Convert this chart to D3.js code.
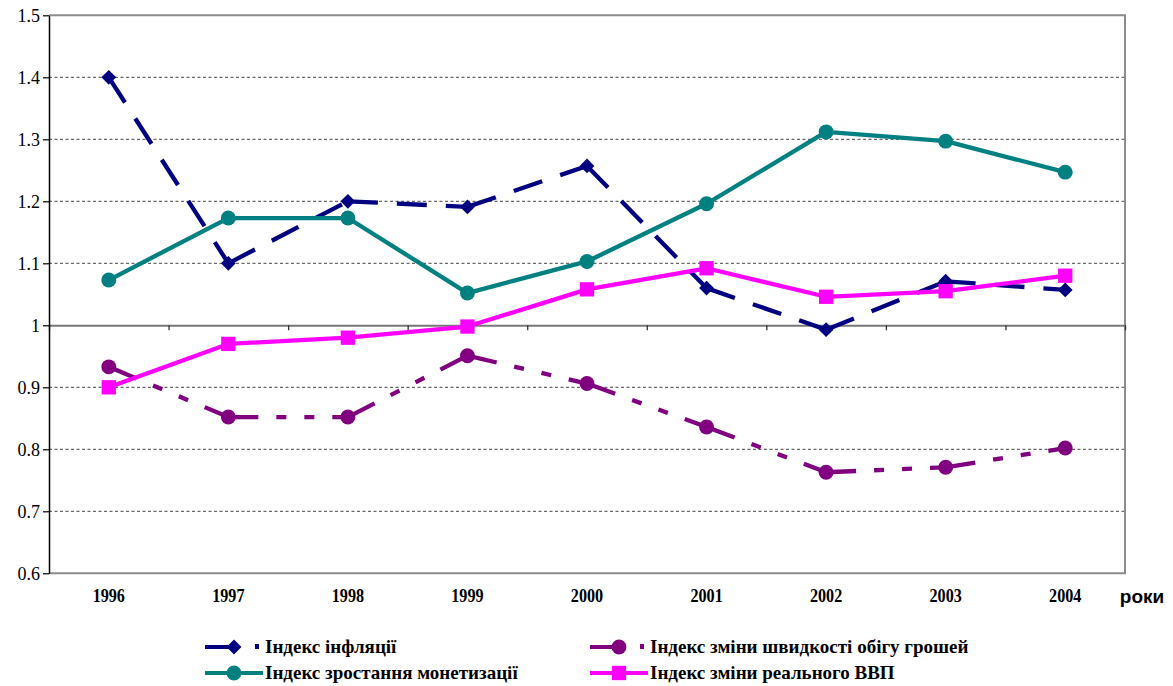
<!DOCTYPE html>
<html>
<head>
<meta charset="utf-8">
<script src="https://cdn.jsdelivr.net/npm/d3@7/dist/d3.min.js"></script>
<style>
  html, body { margin: 0; padding: 0; background: #fff; }
  svg { display: block; }
  .serif { font-family: "Liberation Serif", "Times New Roman", Times, serif; }
</style>
</head>
<body>
<svg id="chart" width="1173" height="686"></svg>
<script>
// ---- data ----
const years = ["1996","1997","1998","1999","2000","2001","2002","2003","2004"];
const inflation    = [1.400, 1.100, 1.200, 1.191, 1.257, 1.060, 0.993, 1.071, 1.057];
const velocity     = [0.933, 0.852, 0.852, 0.951, 0.906, 0.836, 0.763, 0.771, 0.802];
const monetization = [1.073, 1.173, 1.173, 1.052, 1.103, 1.196, 1.312, 1.297, 1.247];
const realGDP      = [0.900, 0.970, 0.980, 0.998, 1.058, 1.092, 1.046, 1.055, 1.080];
const yTicks = [0.6, 0.7, 0.8, 0.9, 1.0, 1.1, 1.2, 1.3, 1.4, 1.5];
const yTickLabels = ["0.6","0.7","0.8","0.9","1","1.1","1.2","1.3","1.4","1.5"];
const seriesNames = ["Індекс інфляції", "Індекс зміни швидкості обігу грошей",
                     "Індекс зростання монетизації", "Індекс зміни реального ВВП"];
const xAxisTitle = "роки";

// ---- layout ----
const svg = d3.select("#chart");
const L = 49, R = 1125, T = 15.3, B = 573.3;

const x = d3.scaleBand().domain(years).range([L, R]).padding(0);
const xb = d3.scaleLinear().domain([0, years.length]).range([L, R]);
const y = d3.scaleLinear().domain([0.6, 1.5]).range([B, T]);
const cx = d => x(d) + x.bandwidth() / 2;

// gridlines (dotted)
svg.append("g").selectAll("line")
  .data(yTicks.filter(v => v !== 0.6 && v !== 1.5 && v !== 1.0))
  .join("line")
  .attr("x1", L).attr("x2", R)
  .attr("y1", d => y(d)).attr("y2", d => y(d))
  .attr("stroke", "#444").attr("stroke-width", 1)
  .attr("stroke-dasharray", "3,2.5");

// border top/right/bottom (gray)
svg.append("path")
  .attr("d", `M${L},${y(1.5)}H${R}V${y(0.6)}H${L}`)
  .attr("fill", "none").attr("stroke", "#8c8c8c").attr("stroke-width", 2);

// category axis crossing at 1.0
const catAxis = svg.append("g")
  .attr("transform", `translate(0,${y(1.0)})`)
  .call(d3.axisBottom(xb).tickValues(d3.range(0, years.length + 1)).tickSize(5).tickSizeOuter(0).tickFormat(""));
catAxis.select(".domain").attr("stroke", "#777").attr("stroke-width", 2);
catAxis.selectAll(".tick line").attr("stroke", "#333").attr("stroke-width", 1.3);

// y axis
const yAxis = svg.append("g")
  .attr("transform", `translate(${L},0)`)
  .call(d3.axisLeft(y).tickValues(yTicks).tickSize(6).tickSizeOuter(0)
        .tickFormat((d, i) => yTickLabels[i]));
yAxis.attr("font-family", null).attr("font-size", null).attr("class", "serif");
yAxis.select(".domain").attr("stroke", "#000").attr("stroke-width", 1.5);
yAxis.selectAll(".tick line").attr("stroke", "#000").attr("stroke-width", 1.2);
yAxis.selectAll(".tick text")
  .style("font-size", "18px").attr("fill", "#000").attr("x", -9);

// x labels
const xLab = svg.append("g")
  .attr("transform", `translate(0,586)`)
  .call(d3.axisBottom(x).tickSize(0));
xLab.attr("font-family", null).attr("font-size", null).attr("class", "serif");
xLab.select(".domain").remove();
xLab.selectAll(".tick text")
  .style("font-size", "19px").style("font-weight", "bold").attr("fill", "#000")
  .attr("dy", "0.71em").attr("y", 3)
  .attr("transform", "scale(0.85,1)");

svg.append("text")
  .attr("x", 1142).attr("y", 603)
  .attr("text-anchor", "middle")
  .style("font-family", "'Liberation Sans', Arial, sans-serif")
  .style("font-weight", "bold").style("font-size", "19px")
  .text(xAxisTitle);

// ---- series ----
const navy = "#000080", purple = "#800080", teal = "#008080", magenta = "#ff00ff";

function segments(vals) {
  const s = [];
  for (let i = 0; i < vals.length - 1; i++)
    s.push([[cx(years[i]), y(vals[i])], [cx(years[i + 1]), y(vals[i + 1])]]);
  return s;
}
const line = d3.line();

function drawSeries(vals, color, dash, width) {
  const g = svg.append("g");
  g.selectAll("path").data(segments(vals)).join("path")
    .attr("d", line)
    .attr("fill", "none").attr("stroke", color).attr("stroke-width", width)
    .attr("stroke-dasharray", dash);
  return g;
}

const diamond = d3.symbol().type(d3.symbolDiamond2).size(140);
const circle = d3.symbol().type(d3.symbolCircle).size(175);
const square = d3.symbol().type(d3.symbolSquare).size(205);

// inflation
drawSeries(inflation, navy, "30,19", 4.3)
  .selectAll(".m").data(inflation).join("path")
  .attr("transform", (d, i) => `translate(${cx(years[i])},${y(d)})`)
  .attr("d", diamond).attr("fill", navy);

// velocity
drawSeries(velocity, purple, "30,18,10,18,10,18", 4.3)
  .selectAll(".m").data(velocity).join("path")
  .attr("transform", (d, i) => `translate(${cx(years[i])},${y(d)})`)
  .attr("d", circle).attr("fill", purple);

// monetization
drawSeries(monetization, teal, null, 4.3)
  .selectAll(".m").data(monetization).join("path")
  .attr("transform", (d, i) => `translate(${cx(years[i])},${y(d)})`)
  .attr("d", circle).attr("fill", teal);

// GDP
drawSeries(realGDP, magenta, null, 4.3)
  .selectAll(".m").data(realGDP).join("path")
  .attr("transform", (d, i) => `translate(${cx(years[i])},${y(d)})`)
  .attr("d", square).attr("fill", magenta);

// ---- legend ----
const legend = svg.append("g").attr("class", "serif")
  .style("font-weight", "bold").style("font-size", "19px");

const legItems = [
  {name: seriesNames[0], color: navy,    x0: 205, yy: 647, dash: true,  marker: diamond, mx: 234, lineEnd: 230},
  {name: seriesNames[1], color: purple,  x0: 590, yy: 647, dash: true,  marker: circle,  mx: 619, lineEnd: 615},
  {name: seriesNames[2], color: teal,    x0: 205, yy: 673, dash: false, marker: circle,  mx: 234, lineEnd: 263},
  {name: seriesNames[3], color: magenta, x0: 590, yy: 673, dash: false, marker: square,  mx: 619, lineEnd: 648}
];
legItems.forEach(it => {
  legend.append("line")
    .attr("x1", it.x0).attr("x2", it.lineEnd)
    .attr("y1", it.yy).attr("y2", it.yy)
    .attr("stroke", it.color).attr("stroke-width", 4);
  if (it.dash) {
    legend.append("rect")
      .attr("x", it.lineEnd + 25).attr("y", it.yy - 3)
      .attr("width", 4).attr("height", 5).attr("fill", it.color);
  }
  legend.append("path")
    .attr("transform", `translate(${it.mx},${it.yy})`)
    .attr("d", it.marker).attr("fill", it.color);
  legend.append("text")
    .attr("x", it.x0 + 60).attr("y", it.yy + 6)
    .attr("fill", "#000")
    .text(it.name);
});
</script>
</body>
</html>
